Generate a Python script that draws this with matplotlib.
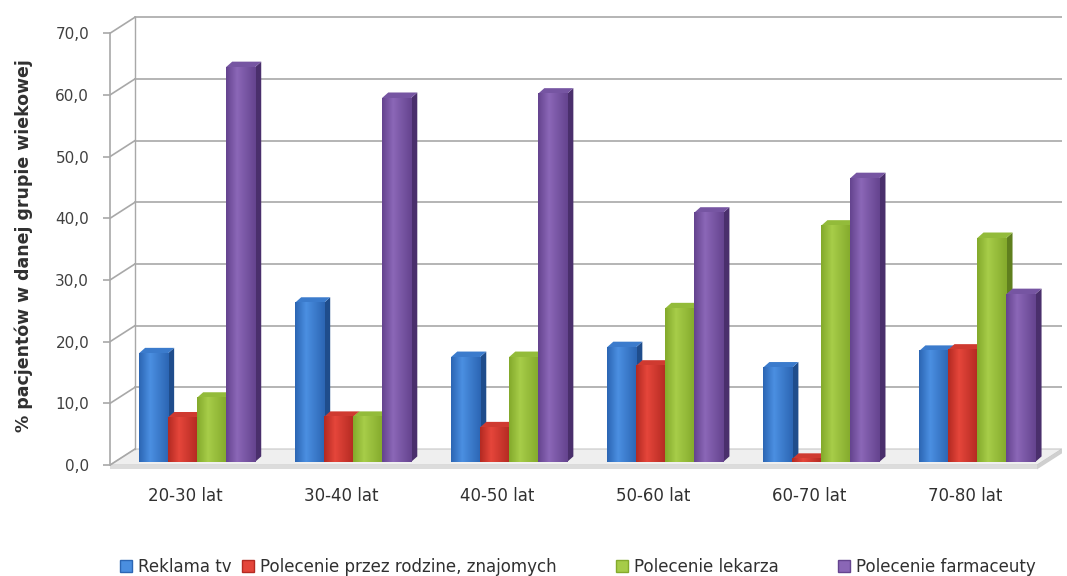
import numpy as np
import matplotlib.pyplot as plt
from matplotlib.patches import Polygon, Patch
from matplotlib.colors import to_rgb

plt.rcParams['font.family'] = ['DejaVu Sans']

categories = ["20-30 lat", "30-40 lat", "40-50 lat", "50-60 lat", "60-70 lat", "70-80 lat"]
series = ["Reklama tv", "Polecenie przez rodzine, znajomych", "Polecenie lekarza", "Polecenie farmaceuty"]
reklama = [17.6, 25.8, 17.0, 18.6, 15.3, 18.0]
rodzina = [7.2, 7.3, 5.6, 15.6, 0.5, 18.2]
lekarz = [10.4, 7.3, 17.0, 24.9, 38.3, 36.3]
farmaceuta = [64.0, 59.0, 59.7, 40.4, 46.0, 27.2]
yticks = [0, 10, 20, 30, 40, 50, 60, 70]

values = [reklama, rodzina, lekarz, farmaceuta]
front_col = ['#4a8ee0', '#e4453a', '#a6cc48', '#8a66b6']
edge_col = ['#2c66b4', '#b42a22', '#84aa2c', '#65448f']
side_col = ['#1f4d8c', '#8a1f18', '#5f7f1e', '#4a2f6c']
top_col = ['#3b7bcc', '#cf3a30', '#93bb3a', '#7655a2']

fig = plt.figure(figsize=(10.67, 5.76), dpi=100)
ax = fig.add_axes([110 / 1067, 1 - 474.3 / 576, (1062 - 110) / 1067, 458.3 / 576])
x0, x1 = -0.48, 5.62
ax.set_xlim(x0, x1)
ax.set_ylim(-1.5, 72.8)

# depth of the back wall and of the bars
dx, dy = 0.16, 2.6
bdx, bdy = 0.04, 0.9
grid_c = '#a8a8a8'

# floor
ax.add_patch(Polygon([(x0, 0), (x1 - dx, 0), (x1, dy), (x0 + dx, dy)],
                     closed=True, fc='#efefef', ec='#c8c8c8', lw=0.8, zorder=1))
ax.add_patch(Polygon([(x0, 0), (x1 - dx, 0), (x1 - dx, -0.7), (x0, -0.7)],
                     closed=True, fc='#dcdcdc', ec='none', zorder=1))
ax.add_patch(Polygon([(x1 - dx, 0), (x1, dy), (x1, dy - 0.7), (x1 - dx, -0.7)],
                     closed=True, fc='#cfcfcf', ec='none', zorder=1))

# back wall gridlines with diagonals
for t in yticks:
    ax.plot([x0, x0 + dx], [t, t + dy], color=grid_c, lw=1.2, zorder=1)
    if t > 0:
        ax.plot([x0 + dx, x1], [t + dy, t + dy], color=grid_c, lw=1.2, zorder=1)
ax.plot([x0 + dx, x0 + dx], [dy, 70 + dy], color=grid_c, lw=1.0, zorder=1)

# bars
bw = 0.186
base = 0.5
xs = np.arange(len(categories))
for i, vals in enumerate(values):
    c1 = np.array(to_rgb(edge_col[i]))
    c2 = np.array(to_rgb(front_col[i]))
    prof = np.concatenate([np.linspace(0, 1, 12), np.linspace(1, 0, 20)])
    grad = (c1[None, :] * (1 - prof[:, None]) + c2[None, :] * prof[:, None])[None, :, :]
    for j, v in enumerate(vals):
        left = xs[j] + 0.077 - 2 * bw + i * bw
        right = left + bw
        top = base + v
        z = 3 + i
        ax.add_patch(Polygon([(right, base), (right + bdx, base + bdy), (right + bdx, top + bdy), (right, top)],
                             closed=True, fc=side_col[i], ec='none', zorder=z))
        ax.add_patch(Polygon([(left, top), (right, top), (right + bdx, top + bdy), (left + bdx, top + bdy)],
                             closed=True, fc=top_col[i], ec='none', zorder=z))
        ax.imshow(grad, extent=[left, right, base, top], aspect='auto', zorder=z,
                  interpolation='bilinear')

ax.set_xlim(x0, x1)
ax.set_ylim(-1.5, 72.8)

for s in ['top', 'right', 'bottom']:
    ax.spines[s].set_visible(False)
ax.spines['left'].set_bounds(0, 70)
ax.spines['left'].set_color(grid_c)
ax.spines['left'].set_linewidth(1.2)

ax.set_yticks(yticks)
ax.set_yticklabels([f"{t:.1f}".replace('.', ',') for t in yticks])
ax.tick_params(axis='y', length=5, color=grid_c, width=1.2, labelsize=11, labelcolor='#404040', pad=10)
ax.set_xticks(xs)
ax.set_xticklabels(categories)
ax.tick_params(axis='x', length=0, labelsize=12, labelcolor='#303030', pad=9)

ax.set_ylabel("% pacjentów w danej grupie wiekowej", fontsize=12.5, fontweight='bold',
              color='#303030', labelpad=16)

# legend entries placed like the original (uneven spacing)
leg_x = [120, 242, 616, 838]
for i in range(4):
    h = Patch(facecolor=front_col[i], edgecolor=edge_col[i])
    fig.legend([h], [series[i]], loc='center left', bbox_to_anchor=(leg_x[i] / 1067, 1 - 567 / 576),
               frameon=False, fontsize=12, handlelength=0.7, handleheight=0.7,
               handletextpad=0.35, borderpad=0, borderaxespad=0, labelcolor='#303030')

fig.savefig('out.png', dpi=100)
